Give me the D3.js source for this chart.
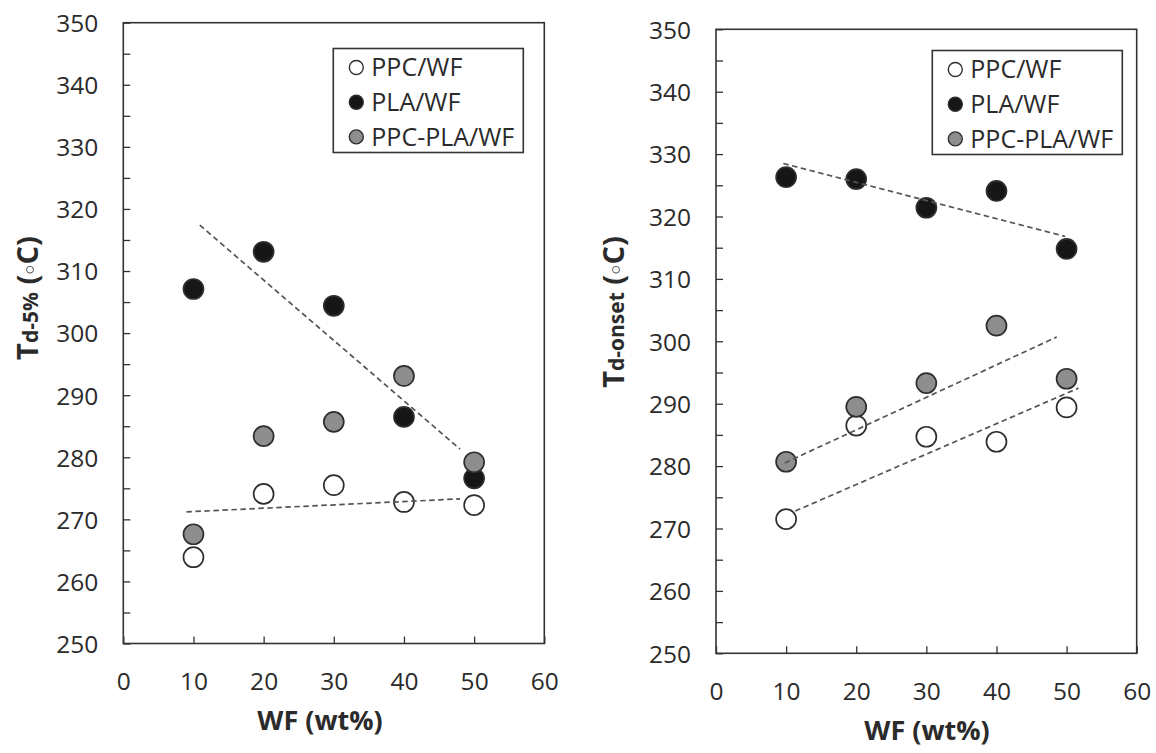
<!DOCTYPE html>
<html>
<head>
<meta charset="utf-8">
<script src="https://cdn.jsdelivr.net/npm/d3@7"></script>
<style>
  body { margin: 0; background: #fff; }
  text { font-family: "Open Sans", "Noto Sans", sans-serif; fill: #2b2b2b; }
</style>
</head>
<body>
<svg id="chart" width="1156" height="753"></svg>
<script>
// Wood flour loading (wt%)
const wfLoading = [10, 20, 30, 40, 50];
const seriesNames = ["PPC/WF", "PLA/WF", "PPC-PLA/WF"];

// Td-5% (°C)
const td5PPC   = [263.9, 274.1, 275.5, 272.8, 272.3];
const td5PLA   = [307.1, 313.1, 304.4, 286.5, 276.6];
const td5Blend = [267.6, 283.4, 285.7, 293.1, 279.2];

// Td-onset (°C)
const tdOnsetPPC   = [271.5, 286.5, 284.7, 283.9, 289.4];
const tdOnsetPLA   = [326.3, 326.0, 321.4, 324.1, 314.8];
const tdOnsetBlend = [280.7, 289.5, 293.3, 302.5, 294.0];

// Linear trend lines: [wf start, T start, wf end, T end]
const td5TrendPLA = [10.9, 317.4, 48.0, 281.3];
const td5TrendPPC = [9.0, 271.2, 48.0, 273.3];
const tdOnsetTrendPLA   = [9.6, 328.5, 49.8, 316.8];
const tdOnsetTrendBlend = [9.8, 280.5, 48.6, 300.7];
const tdOnsetTrendPPC   = [11.3, 272.8, 51.7, 292.5];

// Axis ticks
const xTickValues = [0, 10, 20, 30, 40, 50, 60];
const yTickValues = d3.range(250, 351, 5);
const yDomain = [250, 350];
const xDomain = [0, 60];

const fills = { "PPC/WF": "#ffffff", "PLA/WF": "#161616", "PPC-PLA/WF": "#8e8e8e" };

const svg = d3.select("#chart");

function drawPanel(cfg) {
  const x = d3.scaleLinear().domain(xDomain).range([cfg.left, cfg.right]);
  const y = d3.scaleLinear().domain(yDomain).range([cfg.bottom, cfg.top]);
  const g = svg.append("g");

  // y axis: inward ticks every 5, labels every 10
  const yAxis = d3.axisLeft(y)
    .tickValues(yTickValues)
    .tickSize(-7)
    .tickPadding(25)
    .tickFormat(d => d % 10 === 0 ? d : "");
  const ya = g.append("g").attr("transform", `translate(${cfg.left},0)`).call(yAxis);
  ya.select(".domain").remove();
  ya.selectAll("line").attr("stroke", "#333").attr("stroke-width", 1.3);
  ya.selectAll("text").attr("font-size", 24.5).attr("dy", "0.36em")
    .style("font-family", "'Open Sans', sans-serif").attr("fill", "#2b2b2b");

  // x axis: inward ticks
  const xAxis = d3.axisBottom(x)
    .tickValues(xTickValues)
    .tickSize(-7)
    .tickPadding(29)
    .tickFormat(d => d);
  const xa = g.append("g").attr("transform", `translate(0,${cfg.bottom})`).call(xAxis);
  xa.select(".domain").remove();
  xa.selectAll("line").attr("stroke", "#333").attr("stroke-width", 1.3);
  xa.selectAll("text").attr("font-size", 24.5)
    .style("font-family", "'Open Sans', sans-serif").attr("fill", "#2b2b2b");

  // plot frame
  g.append("rect")
    .attr("x", x(xDomain[0])).attr("y", y(yDomain[1]))
    .attr("width", x(xDomain[1]) - x(xDomain[0]))
    .attr("height", y(yDomain[0]) - y(yDomain[1]))
    .attr("fill", "none").attr("stroke", "#333").attr("stroke-width", 1.6);

  // markers
  cfg.series.forEach((vals, i) => {
    const name = seriesNames[i];
    g.append("g").selectAll("circle")
      .data(wfLoading.map((w, j) => ({ w, v: vals[j] })))
      .join("circle")
      .attr("cx", d => x(d.w))
      .attr("cy", d => y(d.v))
      .attr("r", 10)
      .attr("fill", fills[name])
      .attr("stroke", "#2e2e2e")
      .attr("stroke-width", 1.7);
  });

  // dashed trend lines
  g.append("g").selectAll("line")
    .data(cfg.trends)
    .join("line")
    .attr("x1", d => x(d[0])).attr("y1", d => y(d[1]))
    .attr("x2", d => x(d[2])).attr("y2", d => y(d[3]))
    .attr("stroke", "#555").attr("stroke-width", 1.7)
    .attr("stroke-dasharray", "5.5,3.5");

  // legend
  const lg = g.append("g").attr("transform", `translate(${cfg.legendX},${cfg.legendY})`);
  lg.append("rect").attr("width", 190).attr("height", 104)
    .attr("fill", "#fff").attr("stroke", "#333").attr("stroke-width", 1.6);
  seriesNames.forEach((name, i) => {
    const cy = 19 + i * 34.7;
    lg.append("circle").attr("cx", 23).attr("cy", cy).attr("r", 7)
      .attr("fill", fills[name]).attr("stroke", "#2e2e2e").attr("stroke-width", 1.4);
    lg.append("text").attr("x", 38).attr("y", cy + 8.8)
      .attr("font-size", 25).text(name);
  });

  // x axis title
  g.append("text")
    .attr("x", cfg.xTitleX).attr("y", cfg.bottom + 77)
    .attr("dy", "0.36em")
    .attr("text-anchor", "middle")
    .attr("font-size", 27).attr("font-weight", 700)
    .text("WF (wt%)");

  // y axis title
  const yt = g.append("text")
    .attr("transform", `translate(${cfg.yTitleX},${cfg.yTitleY}) rotate(-90)`)
    .attr("text-anchor", "middle")
    .attr("font-weight", 700);
  yt.append("tspan").attr("font-size", 29).text("T");
  yt.append("tspan").attr("font-size", 21).text(cfg.ySub);
  yt.append("tspan").attr("font-size", 29).text(" (");
  yt.append("tspan").attr("font-size", 17).attr("font-weight", 400).attr("dy", -3).text("○");
  yt.append("tspan").attr("font-size", 29).attr("dy", 3).text("C)");
}

drawPanel({
  left: 123.3, right: 544.3, top: 22.7, bottom: 643.5,
  series: [td5PPC, td5PLA, td5Blend],
  trends: [td5TrendPLA, td5TrendPPC],
  legendX: 333.3, legendY: 48.5,
  xTitleX: 320, yTitleX: 38, yTitleY: 298,
  ySub: "d-5%"
});

drawPanel({
  left: 716, right: 1136.7, top: 29.3, bottom: 653.3,
  series: [tdOnsetPPC, tdOnsetPLA, tdOnsetBlend],
  trends: [tdOnsetTrendPLA, tdOnsetTrendBlend, tdOnsetTrendPPC],
  legendX: 932.3, legendY: 50.5,
  xTitleX: 927, yTitleX: 624, yTitleY: 312,
  ySub: "d-onset"
});
</script>
</body>
</html>
